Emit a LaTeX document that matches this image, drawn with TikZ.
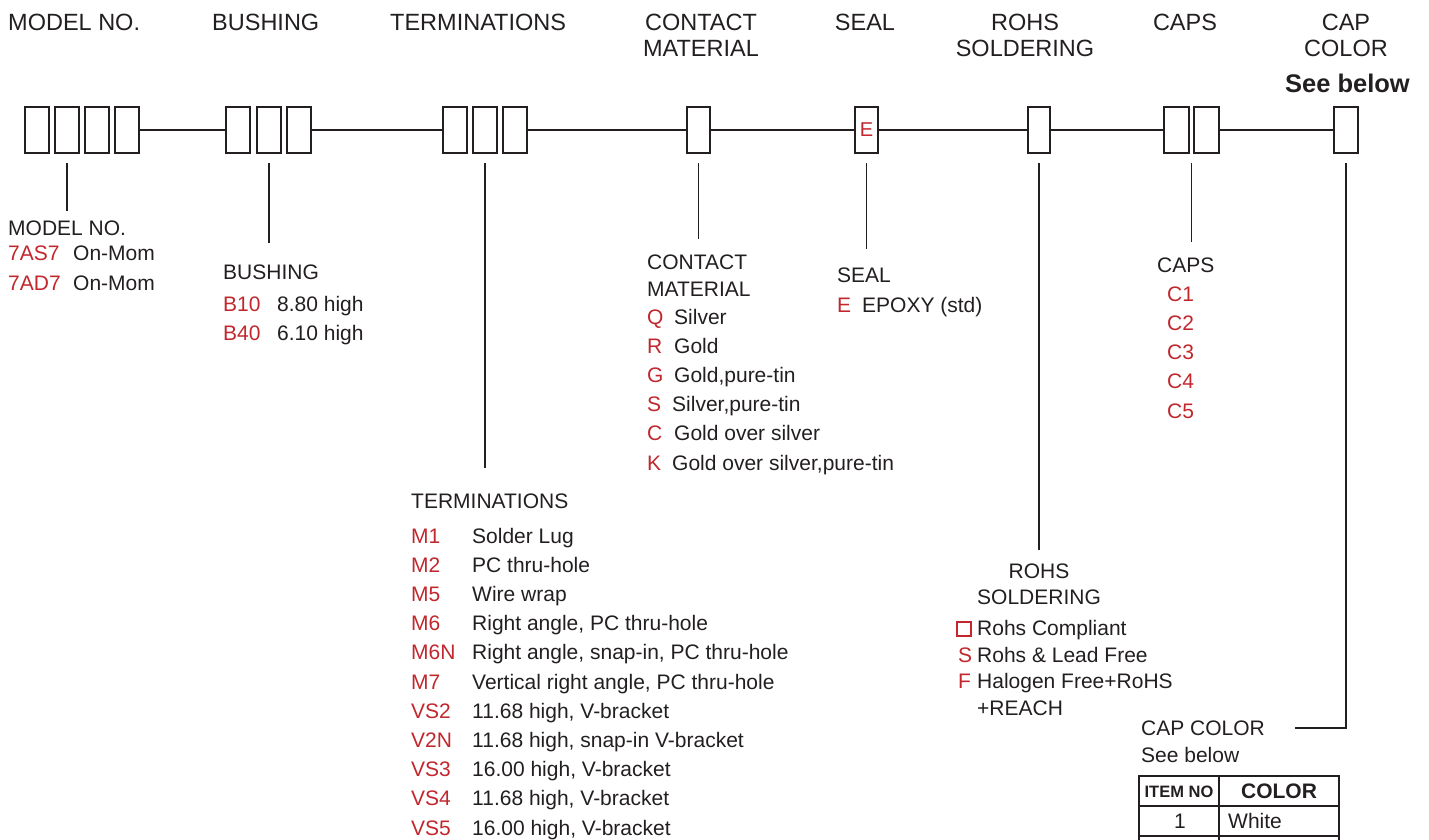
\documentclass[tikz,border=0pt]{standalone}
\usepackage{fontspec}
\setmainfont{Liberation Sans}
\usepackage{tikz}
\usetikzlibrary{calc}

\definecolor{ink}{HTML}{231F20}
\definecolor{codered}{HTML}{C1272D}

\begin{document}
\begin{tikzpicture}[x=1pt,y=-1pt,
    slot/.style={draw=ink,line width=2.2pt,minimum width=#1,minimum height=46pt,inner sep=0pt,anchor=north west},
    slot/.default=24pt,
    head/.style={font=\fontsize{23.5}{26}\selectfont,text=ink,inner sep=0pt},
    txt/.style={font=\fontsize{21}{27}\selectfont,text=ink,inner sep=0pt,anchor=base west},
    code/.style={txt,text=codered},
    lead/.style={draw=ink,line width=1.6pt},
    tab/.style={draw=ink,line width=1.5pt}]
    \useasboundingbox (0,0) rectangle (1429,839);

    % headings on top
    \node[head,anchor=base west] (hm) at (8,30) {MODEL NO.};
    \node[head,anchor=base west] (hb) at (212,30) {BUSHING};
    \node[head,anchor=base west] (ht) at (390,30) {TERMINATIONS};
    \node[head,align=center,anchor=base] (hc) at (701,56) {CONTACT\\MATERIAL};
    \node[head,anchor=base] (hs) at (865,30) {SEAL};
    \node[head,align=center,anchor=base] (hr) at (1025,56) {ROHS\\SOLDERING};
    \node[head,anchor=base] (hp) at (1185,30) {CAPS};
    \node[head,align=center,anchor=base] (hk) at (1346,56) {CAP\\COLOR};
    \node[head,anchor=base east,font=\bfseries\fontsize{25.5}{28}\selectfont] (hsee) at (1410,92) {See below};

    % the code slots
    \node[slot] (m1) at (24,106) {};
    \node[slot] (m2) at (54,106) {};
    \node[slot] (m3) at (84,106) {};
    \node[slot] (m4) at (114,106) {};
    \node[slot] (b1) at (225,106) {};
    \node[slot] (b2) at (256,106) {};
    \node[slot] (b3) at (286,106) {};
    \node[slot] (t1) at (442,106) {};
    \node[slot] (t2) at (472,106) {};
    \node[slot] (t3) at (502,106) {};
    \node[slot=23pt] (c1) at (686,106) {};
    \node[slot=23pt,text=codered,font=\fontsize{20}{24}\selectfont] (s1) at (854,106) {E};
    \node[slot=22pt] (r1) at (1027,106) {};
    \node[slot=25pt] (p1) at (1163,106) {};
    \node[slot=25pt] (p2) at (1193,106) {};
    \node[slot] (k1) at (1333,106) {};
    \draw[ink,line width=2pt] (m4.east) -- (b1.west) (b3.east) -- (t1.west)
        (t3.east) -- (c1.west) (c1.east) -- (s1.west) (s1.east) -- (r1.west)
        (r1.east) -- (p1.west) (p2.east) -- (k1.west);

    % model no.
    \node[txt] (mlab) at (8,235) {MODEL NO.};
    \node[code] (m7as) at (8,260) {7AS7};
    \node[txt] (m7asd) at (73,260) {On-Mom};
    \node[code] (m7ad) at (8,290) {7AD7};
    \node[txt] (m7add) at (73,290) {On-Mom};
    \draw[lead] ([yshift=-9pt]m2.south) -- ([yshift=9pt]m2.south |- mlab.north);

    % bushing
    \node[txt] (blab) at (223,279) {BUSHING};
    \node[code] (b10) at (223,311) {B10};
    \node[txt] (b10d) at (277,311) {8.80 high};
    \node[code] (b40) at (223,340) {B40};
    \node[txt] (b40d) at (277,340) {6.10 high};
    \draw[lead] ([yshift=-9pt]b2.south) -- ([yshift=21pt]b2.south |- blab.north);

    % terminations
    \node[txt] (tlab) at (411,508) {TERMINATIONS};
    \node[code] (tm1) at (411,543) {M1};
    \node[txt] (tm1d) at (472,543) {Solder Lug};
    \node[code] (tm2) at (411,572.2) {M2};
    \node[txt] (tm2d) at (472,572.2) {PC thru-hole};
    \node[code] (tm5) at (411,601.4) {M5};
    \node[txt] (tm5d) at (472,601.4) {Wire wrap};
    \node[code] (tm6) at (411,630.6) {M6};
    \node[txt] (tm6d) at (472,630.6) {Right angle, PC thru-hole};
    \node[code] (tm6n) at (411,659.8) {M6N};
    \node[txt] (tm6nd) at (472,659.8) {Right angle, snap-in, PC thru-hole};
    \node[code] (tm7) at (411,689) {M7};
    \node[txt] (tm7d) at (472,689) {Vertical right angle, PC thru-hole};
    \node[code] (tvs2) at (411,718.2) {VS2};
    \node[txt] (tvs2d) at (472,718.2) {11.68 high, V-bracket};
    \node[code] (tv2n) at (411,747.4) {V2N};
    \node[txt] (tv2nd) at (472,747.4) {11.68 high, snap-in V-bracket};
    \node[code] (tvs3) at (411,776.6) {VS3};
    \node[txt] (tvs3d) at (472,776.6) {16.00 high, V-bracket};
    \node[code] (tvs4) at (411,805.8) {VS4};
    \node[txt] (tvs4d) at (472,805.8) {11.68 high, V-bracket};
    \node[code] (tvs5) at (411,835) {VS5};
    \node[txt] (tvs5d) at (472,835) {16.00 high, V-bracket};
    \draw[lead] ([yshift=-9pt]t2.south) -- ([yshift=25pt]t2.south |- tlab.north);

    % contact material
    \node[txt,align=left] (clab) at (647,296) {CONTACT\\MATERIAL};
    \node[code] (cq) at (647,324) {Q};
    \node[txt] (cqd) at (674,324) {Silver};
    \node[code] (cr) at (647,353.2) {R};
    \node[txt] (crd) at (674,353.2) {Gold};
    \node[code] (cg) at (647,382.4) {G};
    \node[txt] (cgd) at (674,382.4) {Gold,pure-tin};
    \node[code] (cs) at (647,411.6) {S};
    \node[txt] (csd) at (672,411.6) {Silver,pure-tin};
    \node[code] (cc) at (647,440.8) {C};
    \node[txt] (ccd) at (674,440.8) {Gold over silver};
    \node[code] (ck) at (647,470) {K};
    \node[txt] (ckd) at (672,470) {Gold over silver,pure-tin};
    \draw[lead] ([yshift=-9pt]c1.south) -- ([yshift=15pt]c1.south |- clab.north);

    % seal
    \node[txt] (slab) at (837,282) {SEAL};
    \node[code] (se) at (837,312) {E};
    \node[txt] (sed) at (862,312) {EPOXY (std)};
    \draw[lead] ([yshift=-9pt]s1.south) -- ([yshift=18pt]s1.south |- slab.north);

    % rohs soldering
    \node[txt,anchor=base,align=center,font=\fontsize{21}{26}\selectfont] (rlab) at (1039,604) {ROHS\\SOLDERING};
    \draw[codered,line width=1.3pt] (957,622) rectangle (971,636);
    \node[txt] (rnd) at (977,635) {Rohs Compliant};
    \node[code] (rs) at (958,662) {S};
    \node[txt] (rsd) at (977,662) {Rohs \& Lead Free};
    \node[code] (rf) at (958,688) {F};
    \node[txt] (rfd) at (977,688) {Halogen Free+RoHS};
    \node[txt] (rfe) at (977,715) {+REACH};
    \draw[lead] ([yshift=-9pt]r1.south) -- ([yshift=13pt]r1.south |- rlab.north);

    % caps
    \node[txt] (plab) at (1157,272) {CAPS};
    \node[code] (pc1) at (1167,301) {C1};
    \node[code] (pc2) at (1167,330.3) {C2};
    \node[code] (pc3) at (1167,359.6) {C3};
    \node[code] (pc4) at (1167,388.9) {C4};
    \node[code] (pc5) at (1167,418.2) {C5};
    \coordinate (pmid) at ($(p1.south east)!0.5!(p2.south west)$);
    \draw[lead] ([yshift=-9pt]pmid) -- ([yshift=15pt]pmid |- plab.north);

    % cap color
    \node[txt] (klab) at (1141,735) {CAP COLOR};
    \node[txt] (ksee) at (1141,762) {See below};
    \draw[lead] ([yshift=-9pt]k1.south) |- ([xshift=30pt]klab.east);

    % colour table
    \draw[tab] (1139,845) -- (1139,776) -- (1339,776) -- (1339,845);
    \draw[tab] (1219,776) -- (1219,845);
    \draw[tab] (1139,806) -- (1339,806) (1139,836) -- (1339,836);
    \node[anchor=base,inner sep=0pt,text=ink,font=\bfseries\fontsize{16.5}{18}\selectfont] (titem) at (1179,797) {ITEM NO};
    \node[anchor=base,inner sep=0pt,text=ink,font=\bfseries\fontsize{21}{24}\selectfont] (tcol) at (1279,798) {COLOR};
    \node[txt,anchor=base] (t1no) at (1180,828) {1};
    \node[txt] (t1col) at (1228,828) {White};
\end{tikzpicture}
\end{document}
